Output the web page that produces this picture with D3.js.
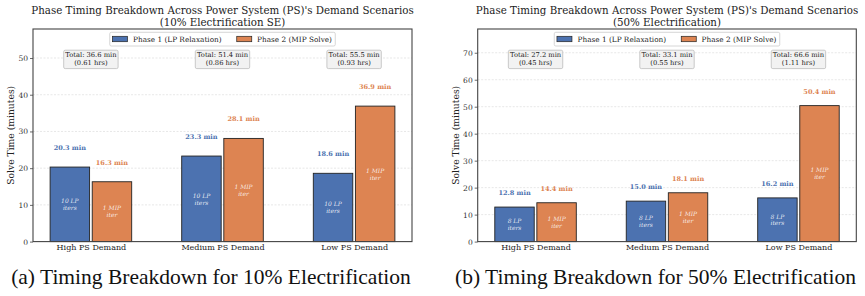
<!DOCTYPE html>
<html><head><meta charset="utf-8">
<script src="https://cdn.jsdelivr.net/npm/d3@7"></script>
<style>
body{margin:0;background:#fff;font-family:"DejaVu Serif"}
svg{display:block}
</style>
</head><body>
<svg id="c" width="865" height="296"></svg>
<script>
const categories = ["High PS Demand", "Medium PS Demand", "Low PS Demand"];
const seriesNames = ["Phase 1 (LP Relaxation)", "Phase 2 (MIP Solve)"];
const colors = ["#4C72B0", "#DD8452"];
// Panel (a): 10% Electrification
const phase1_10 = [20.3, 23.3, 18.6];
const phase2_10 = [16.3, 28.1, 36.9];
const total_10 = [36.6, 51.4, 55.5];
const hrs_10 = [0.61, 0.86, 0.93];
const lpIters_10 = 10;
const ticks_10 = [0, 10, 20, 30, 40, 50];
// Panel (b): 50% Electrification
const phase1_50 = [12.8, 15.0, 16.2];
const phase2_50 = [14.4, 18.1, 50.4];
const total_50 = [27.2, 33.1, 66.6];
const hrs_50 = [0.45, 0.55, 1.11];
const lpIters_50 = 8;
const ticks_50 = [0, 10, 20, 30, 40, 50, 60, 70];
const mipIters = 1;

const titleLine1 = "Phase Timing Breakdown Across Power System (PS)'s Demand Scenarios";
const panels = [
  {left: 33, right: 412, capX: 211, title2: "(10% Electrification SE)", p1: phase1_10, p2: phase2_10, tot: total_10, hrs: hrs_10, lp: lpIters_10, ticks: ticks_10, ymax: 57.9,
   caption: "(a) Timing Breakdown for 10% Electrification"},
  {left: 477.7, right: 856.3, capX: 655.5, title2: "(50% Electrification)", p1: phase1_50, p2: phase2_50, tot: total_50, hrs: hrs_50, lp: lpIters_50, ticks: ticks_50, ymax: 78.8,
   caption: "(b) Timing Breakdown for 50% Electrification"}
];

const svg = d3.select("#c");
const serif = "DejaVu Serif";
const capFont = "Liberation Serif";
const plotTop = 29, plotBottom = 241.6;

function fitSize(sample, family, targetW, weight, style) {
  const t = svg.append("text").attr("font-family", family).attr("font-size", 100)
    .attr("font-weight", weight || "normal").attr("font-style", style || "normal").text(sample);
  const w = t.node().getComputedTextLength();
  t.remove();
  return 100 * targetW / w;
}

function draw() {
  svg.selectAll("*").remove();
  const fsTitle = fitSize(titleLine1, serif, 382.6);
  const fsLegend = fitSize(seriesNames[0], serif, 88.7);
  const fsTotal = fitSize("Total: 36.6 min", serif, 51.3);
  const fsValue = fitSize("20.3 min", serif, 32.3, "bold");
  const fsXTick = fitSize("Medium PS Demand", serif, 83.3);
  const fsYTick = fitSize("50", serif, 9.6);
  const fsYLabel = fitSize("Solve Time (minutes)", serif, 99);
  const fsInner = fitSize("10 LP", serif, 17.5, "normal", "italic");
  const fsCap = fitSize(panels[0].caption, capFont, 400);

  panels.forEach(P => {
    const g = svg.append("g").attr("font-family", serif);
    const x = d3.scaleLinear().domain([-0.44, 2.44]).range([P.left, P.right]);
    const y = d3.scaleLinear().domain([0, P.ymax]).range([plotBottom, plotTop]);
    const pxPerUnit = x(1) - x(0);
    const bw = 0.3 * pxPerUnit;
    const off = 0.16;
    const cx = (P.left + P.right) / 2;
    const barX = d => x(d.i + (d.s === 0 ? -off : off));

    // title
    g.append("text").attr("x", cx).attr("y", 14).attr("text-anchor", "middle")
      .attr("font-family", serif).attr("font-size", fsTitle).attr("fill", "#222").text(titleLine1);
    g.append("text").attr("x", cx).attr("y", 25.6).attr("text-anchor", "middle")
      .attr("font-family", serif).attr("font-size", fsTitle).attr("fill", "#222").text(P.title2);

    // grid
    g.append("g").selectAll("line").data(P.ticks.filter(t => t > 0)).join("line")
      .attr("x1", P.left).attr("x2", P.right).attr("y1", d => y(d)).attr("y2", d => y(d))
      .attr("stroke", "#d6d6d6").attr("stroke-width", 0.6).attr("stroke-dasharray", "2,1.5");

    // bars
    const data = [];
    categories.forEach((c, i) => {
      data.push({i, s: 0, v: P.p1[i]});
      data.push({i, s: 1, v: P.p2[i]});
    });
    g.append("g").selectAll("rect").data(data).join("rect")
      .attr("x", d => barX(d) - bw / 2)
      .attr("width", bw)
      .attr("y", d => y(d.v)).attr("height", d => y(0) - y(d.v))
      .attr("fill", d => colors[d.s]).attr("stroke", "#222").attr("stroke-width", 0.9);

    // value labels
    g.append("g").selectAll("text").data(data).join("text")
      .attr("x", barX)
      .attr("y", d => y(d.v + 5.25)).attr("dy", "0.35em").attr("text-anchor", "middle")
      .attr("font-family", serif).attr("font-size", fsValue).attr("font-weight", "bold")
      .attr("fill", d => colors[d.s]).text(d => d.v.toFixed(1) + " min");

    // interior labels
    const inner = g.append("g").selectAll("text").data(data).join("text")
      .attr("x", barX)
      .attr("y", d => y(d.v / 2))
      .attr("text-anchor", "middle")
      .attr("font-family", serif).attr("font-size", fsInner).attr("font-style", "italic")
      .attr("fill", "#fff").attr("fill-opacity", 0.85);
    inner.append("tspan").attr("x", barX).attr("dy", "-0.2em")
      .text(d => d.s === 0 ? P.lp + " LP" : mipIters + " MIP");
    inner.append("tspan").attr("x", barX).attr("dy", "1.15em")
      .text(d => d.s === 0 ? "iters" : "iter");

    // total boxes
    categories.forEach((c, i) => {
      const bx = x(i), by = y(P.ymax * 0.857);
      g.append("rect").attr("x", bx - 27.2).attr("y", by - 9.2).attr("width", 54.4).attr("height", 18.4)
        .attr("rx", 1.5).attr("fill", "#f2f2f2").attr("stroke", "#bdbdbd").attr("stroke-width", 0.8);
      g.append("text").attr("x", bx).attr("y", by - 2.3).attr("text-anchor", "middle")
        .attr("font-family", serif).attr("font-size", fsTotal).attr("fill", "#222")
        .text("Total: " + P.tot[i].toFixed(1) + " min");
      g.append("text").attr("x", bx).attr("y", by + 5.7).attr("text-anchor", "middle")
        .attr("font-family", serif).attr("font-size", fsTotal).attr("fill", "#222")
        .text("(" + P.hrs[i].toFixed(2) + " hrs)");
    });

    // frame
    g.append("rect").attr("x", P.left).attr("y", plotTop).attr("width", P.right - P.left).attr("height", plotBottom - plotTop)
      .attr("fill", "none").attr("stroke", "#444").attr("stroke-width", 1.1);

    // y axis
    const ya = g.append("g").attr("transform", `translate(${P.left},0)`)
      .call(d3.axisLeft(y).tickValues(P.ticks).tickSize(3).tickPadding(2).tickFormat(d3.format("d")));
    ya.attr("font-family", serif);
    ya.select(".domain").remove();
    ya.selectAll("line").attr("stroke", "#444").attr("stroke-width", 0.8);
    ya.selectAll("text").attr("font-family", serif).attr("font-size", fsYTick).attr("fill", "#333");

    // x axis labels
    const xa = g.append("g").attr("transform", `translate(0,${plotBottom})`)
      .call(d3.axisBottom(x).tickValues([0, 1, 2]).tickSize(0).tickPadding(2.5).tickFormat(i => categories[i]));
    xa.attr("font-family", serif);
    xa.select(".domain").remove();
    xa.selectAll("text").attr("font-family", serif).attr("font-size", fsXTick).attr("fill", "#222");

    // y label
    g.append("text").attr("transform", `translate(${P.left - 19},${(plotTop + plotBottom) / 2}) rotate(-90)`)
      .attr("text-anchor", "middle").attr("font-family", serif).attr("font-size", fsYLabel).attr("fill", "#222")
      .text("Solve Time (minutes)");

    // legend
    const lw = 225.5, lh = 13.7, lx = cx - lw / 2, ly = 32.3;
    const lg = g.append("g");
    lg.append("rect").attr("x", lx).attr("y", ly).attr("width", lw).attr("height", lh).attr("rx", 1.5)
      .attr("fill", "#fff").attr("fill-opacity", 0.85).attr("stroke", "#ccc").attr("stroke-width", 0.8);
    const items = [{dx: 2.7, tx: 23.3}, {dx: 127, tx: 147.3}];
    seriesNames.forEach((n, k) => {
      lg.append("rect").attr("x", lx + items[k].dx).attr("y", ly + 4).attr("width", 15).attr("height", 5.4)
        .attr("fill", colors[k]).attr("stroke", "#222").attr("stroke-width", 0.7);
      lg.append("text").attr("x", lx + items[k].tx).attr("y", ly + 9.5)
        .attr("font-family", serif).attr("font-size", fsLegend).attr("fill", "#222").text(n);
    });

    // caption
    svg.append("text").attr("x", P.capX).attr("y", 284).attr("text-anchor", "middle")
      .attr("font-family", capFont).attr("font-size", fsCap).attr("fill", "#111")
      .text(P.caption);
  });
}
draw();
if (document.fonts && document.fonts.ready) document.fonts.ready.then(draw);
</script>
</body></html>
